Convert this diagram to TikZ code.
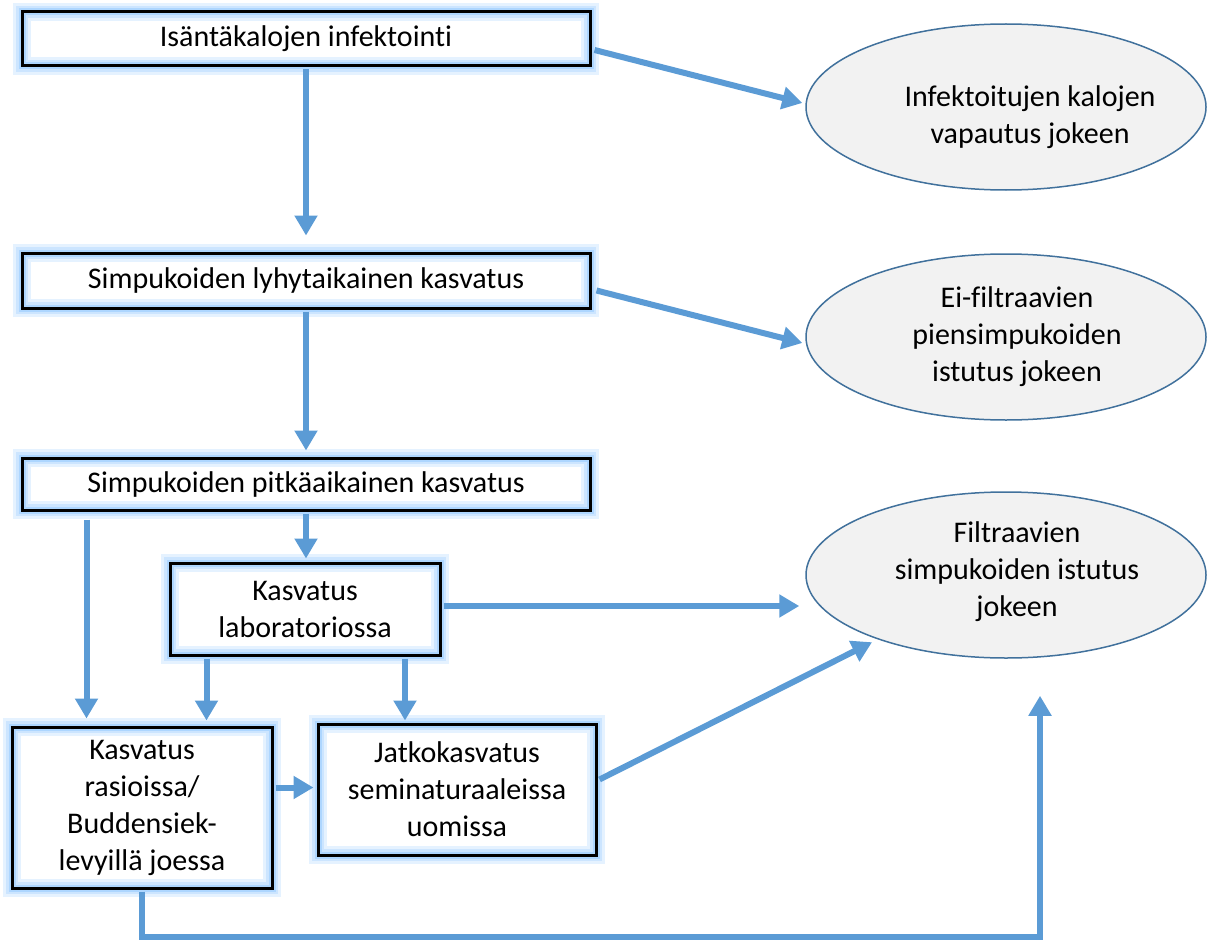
\documentclass[tikz,border=0pt]{standalone}
\usepackage{fontspec}
\setmainfont{Carlito}[Ligatures=NoCommon]
\usetikzlibrary{arrows.meta,shapes.geometric,calc}
\definecolor{arrblue}{HTML}{5B9BD5}
\definecolor{glowA}{rgb}{0.90,0.95,1}
\definecolor{glowB}{rgb}{0.80,0.90,1}
\definecolor{glowC}{rgb}{0.68,0.84,1}
\definecolor{ellfill}{HTML}{F2F2F2}
\definecolor{ellborder}{HTML}{41719C}
\tikzset{
  glowbox/.style={rectangle, draw=black, line width=3pt, align=center,
    font=\fontsize{30}{37}\selectfont, inner sep=0pt,
    preaction={fill=white},
    preaction={draw=glowA, line width=18pt},
    preaction={draw=glowB, line width=12pt},
    preaction={draw=glowC, line width=7pt}},
  ell/.style={ellipse, draw=ellborder, line width=1.5pt, fill=ellfill,
    minimum width=400pt, minimum height=166pt, inner sep=0pt},
  etext/.style={align=center, font=\fontsize{30}{37}\selectfont},
  arr/.style={draw=arrblue, line width=6pt, -{Triangle[length=20pt,width=22pt]}}
}
\begin{document}
\begin{tikzpicture}[x=1pt,y=-1pt]
\useasboundingbox (0,0) rectangle (1209,939);
% boxes
\node[glowbox, minimum width=568pt, minimum height=54pt] (b1) at (306,39) {Isäntäkalojen infektointi};
\node[glowbox, minimum width=568pt, minimum height=55pt] (b2) at (306,280.5) {Simpukoiden lyhytaikainen kasvatus};
\node[glowbox, minimum width=568pt, minimum height=52pt] (b3) at (306,484) {Simpukoiden pitkäaikainen kasvatus};
\node[glowbox, minimum width=270pt, minimum height=92pt] (b4) at (305,609) {Kasvatus\\laboratoriossa};
\node[glowbox, minimum width=260pt, minimum height=161pt] (b5) at (142,807.5) {Kasvatus\\rasioissa/\\Buddensiek-\\levyillä joessa};
\node[glowbox, minimum width=278pt, minimum height=131pt] (b6) at (457,789.5) {Jatkokasvatus\\seminaturaaleissa\\uomissa};
% ellipses
\node[ell] (e1) at (1006,107) {};
\node[etext] at (1030,117) {Infektoitujen kalojen\\vapautus jokeen};
\node[ell] (e2) at (1006,337) {};
\node[etext] at (1017,337) {Ei-filtraavien\\piensimpukoiden\\istutus jokeen};
\node[ell] (e3) at (1006,575) {};
\node[etext] at (1017,572) {Filtraavien\\simpukoiden istutus\\jokeen};
% connectors
\draw[arr] ([xshift=3pt,yshift=-11pt]b1.east) -- ([xshift=-3pt,yshift=4pt]e1.west);
\draw[arr] ([yshift=-2pt]b1.south) -- ([xshift=0pt,yshift=16pt]b2.north);
\draw[arr] ([xshift=5pt,yshift=-10pt]b2.east) -- ([xshift=-3pt,yshift=-6pt]e2.west);
\draw[arr] ([yshift=-2pt]b2.south) -- ([yshift=6pt]b3.north);
\draw[arr] ([yshift=-2pt]b3.south) -- ([xshift=1pt,yshift=3pt]b4.north);
\draw[arr] ([xshift=66pt,yshift=-8pt]b3.south west) -- ([xshift=76pt,yshift=7pt]b5.north west);
\draw[arr] ([xshift=38pt,yshift=-2pt]b4.south west) -- ([xshift=196pt,yshift=5pt]b5.north west);
\draw[arr] ([xshift=-36.5pt,yshift=-2pt]b4.south east) -- ([xshift=88.5pt,yshift=2pt]b6.north west);
\draw[arr] ([xshift=2pt,yshift=3pt]b4.east) -- ([xshift=-6pt,yshift=-31pt]e3.west);
\draw[arr] ([xshift=2pt,yshift=20pt]b5.east) -- ([xshift=-3pt,yshift=2pt]b6.west);
\draw[arr] ([xshift=2pt,yshift=10pt]b6.east) -- ([xshift=8pt,yshift=-8pt]e3.south west);
\coordinate (c1) at ([yshift=-47pt]b5.south);
\coordinate (c2) at ([xshift=34pt,yshift=-37pt]e3.south);
\draw[arr] ([yshift=-2pt]b5.south) |- (c1) -| (c2);
\end{tikzpicture}
\end{document}
